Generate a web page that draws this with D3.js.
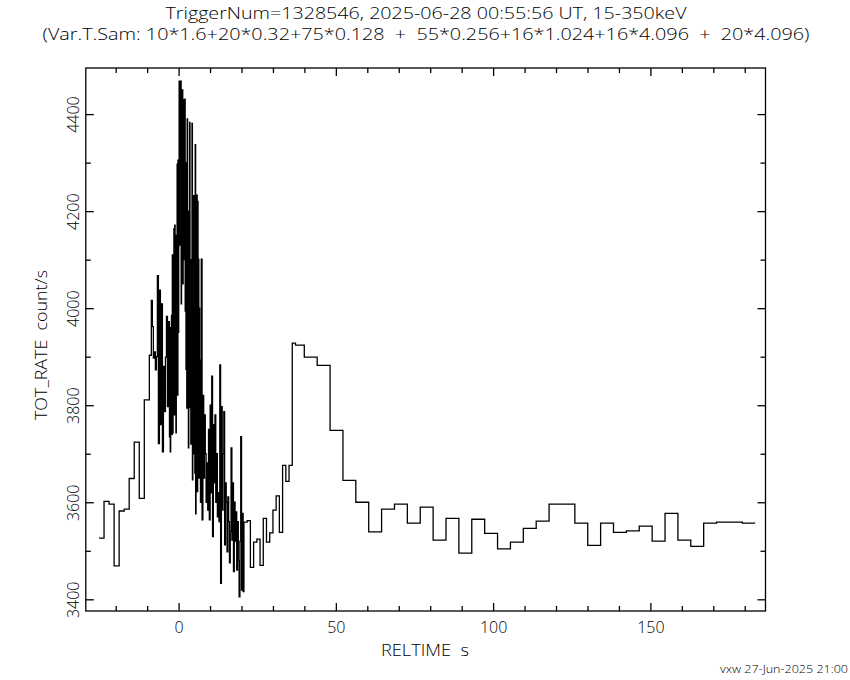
<!DOCTYPE html>
<html><head><meta charset="utf-8">
<script src="https://cdn.jsdelivr.net/npm/d3@7"></script>
<style>
html,body{margin:0;padding:0;background:#fff;}
text{font-family:"Open Sans","DejaVu Sans",sans-serif;font-weight:300;fill:#000;white-space:pre;}
</style></head>
<body>
<script>
// ---- data ----
const titleLine1 = "TriggerNum=1328546, 2025-06-28 00:55:56 UT, 15-350keV";
const titleLine2 = "(Var.T.Sam: 10*1.6+20*0.32+75*0.128  +  55*0.256+16*1.024+16*4.096  +  20*4.096)";
const xLabel = "RELTIME  s";
const yLabel = "TOT_RATE  count/s";
const footer = "vxw 27-Jun-2025 21:00";

// segment start times (s) and bin widths (s)
const segStart = [-25.3, -9.3, -2.9, 6.7, 20.78, 35.87, 101.41];
const segWidth = [1.6, 0.32, 0.128, 0.256, 1.024, 4.096, 4.096];

const rates1 = [3526, 3602, 3596, 3469, 3582, 3586, 3649, 3724, 3608, 3811];
const rates2 = [3903, 3903, 4016, 3962, 3897, 3910, 3873, 3900, 4067, 3721,
                4037, 3760, 4009, 3704, 3880, 3787, 3899, 3983, 3797, 3972];
const rates3 = [3735, 3960, 3704, 3900, 3760, 3985, 3740,
                4110, 3743, 4050, 3800,
                4164, 3780, 4171, 3900, 4100, 3743, 4150, 3850,
                4297, 3821, 4305, 3950, 4200,
                4468, 4130, 4440, 4200, 4468, 4009, 4400, 4155, 4450, 4050, 4380, 4300, 4430,
                4100, 4431, 3994, 4300, 3874, 4250, 3794, 4390, 3900, 4200,
                3712, 4150, 3795, 4383, 3850, 4050, 3720, 4100, 3900,
                4381, 3646, 4000, 3700, 4232, 3800, 3950, 3660,
                4337, 3576, 4100, 3700, 4233,
                3622, 4220, 3700, 4101, 3650, 4000];
const rates4 = [3893, 3600, 4101, 3564, 3820,
                3650, 3780, 3700, 3600,
                3681, 3584, 3750, 3564,
                3800, 3620, 3860, 3529, 3760,
                3640, 3780, 3600, 3700,
                3570, 3620, 3560, 3883,
                3433, 3797, 3584, 3700,
                3787, 3512, 3640, 3600,
                3498, 3611, 3560, 3475,
                3540, 3712, 3522, 3640,
                3457, 3600, 3520, 3580,
                3460, 3560, 3480, 3405, 3520,
                3735, 3419, 3577, 3416];
const rates5 = [3559, 3562, 3466, 3518, 3524, 3470, 3567, 3518,
                3537, 3584, 3613, 3538, 3676, 3643, 3676, 3928];
const rates6 = [3924, 3899, 3882, 3748, 3645, 3600, 3539, 3586,
                3596, 3557, 3590, 3522, 3567, 3495, 3565, 3536];
const rates7 = [3504, 3518, 3546, 3561, 3596, 3596, 3557, 3511, 3557, 3538,
                3541, 3551, 3520, 3577, 3522, 3509, 3557, 3559, 3559, 3557];
const segRates = [rates1, rates2, rates3, rates4, rates5, rates6, rates7];

const xMajor = [0, 50, 100, 150];
const xMinor = [-20, -10, 10, 20, 30, 40, 60, 70, 80, 90, 110, 120, 130, 140, 160, 170, 180];
const yMajor = [3400, 3600, 3800, 4000, 4200, 4400];
const yMinor = [3500, 3700, 3900, 4100, 4300];
const xDomain = [-29.5, 186.6];
const yDomain = [3375.9, 4495];

// ---- layout ----
const W = 850, H = 680;
const L = 85.8, R = 765.5, T = 68, B = 611;

const svg = d3.select("body").append("svg").attr("width", W).attr("height", H);
svg.append("rect").attr("width", W).attr("height", H).attr("fill", "#fff");

const x = d3.scaleLinear().domain(xDomain).range([L, R]);
const y = d3.scaleLinear().domain(yDomain).range([B, T]);

// build step vertices
const verts = [];
let prevEnd = -Infinity;
segRates.forEach((vals, s) => {
  vals.forEach((v, i) => {
    const t0 = segStart[s] + i * segWidth[s];
    const t1 = t0 + segWidth[s];
    const a = Math.max(t0, prevEnd);
    verts.push([a, v]);
    verts.push([t1, v]);
    prevEnd = t1;
  });
});

const line = d3.line().x(d => x(d[0])).y(d => y(d[1]));
svg.append("path").attr("d", line(verts)).attr("fill", "none")
  .attr("stroke", "#000").attr("stroke-width", 1.3).attr("stroke-linejoin", "miter");

// axes
function styleAxis(g) {
  g.select(".domain").remove();
  g.selectAll("line").attr("stroke", "#000").attr("stroke-width", 1.3);
  g.selectAll("text").style("font-size", "16px").attr("fill", "#000");
}
svg.append("g").attr("transform", `translate(0,${B})`)
  .call(d3.axisBottom(x).tickValues(xMajor).tickSize(-8).tickPadding(11).tickFormat(d3.format("d")))
  .call(styleAxis);
svg.append("g").attr("transform", `translate(0,${B})`)
  .call(d3.axisBottom(x).tickValues(xMinor).tickSize(-5).tickFormat(""))
  .call(styleAxis);
svg.append("g").attr("transform", `translate(0,${T})`)
  .call(d3.axisTop(x).tickValues(xMajor).tickSize(-8).tickFormat(""))
  .call(styleAxis);
svg.append("g").attr("transform", `translate(0,${T})`)
  .call(d3.axisTop(x).tickValues(xMinor).tickSize(-5).tickFormat(""))
  .call(styleAxis);

const gl = svg.append("g").attr("transform", `translate(${L},0)`)
  .call(d3.axisLeft(y).tickValues(yMajor).tickSize(-8).tickFormat(d3.format("d")))
  .call(styleAxis);
gl.selectAll("text")
  .attr("x", null).attr("dy", null).attr("text-anchor", "middle")
  .attr("transform", "translate(-7,0) rotate(-90)");
svg.append("g").attr("transform", `translate(${L},0)`)
  .call(d3.axisLeft(y).tickValues(yMinor).tickSize(-5).tickFormat(""))
  .call(styleAxis);
svg.append("g").attr("transform", `translate(${R},0)`)
  .call(d3.axisRight(y).tickValues(yMajor).tickSize(-8).tickFormat(""))
  .call(styleAxis);
svg.append("g").attr("transform", `translate(${R},0)`)
  .call(d3.axisRight(y).tickValues(yMinor).tickSize(-5).tickFormat(""))
  .call(styleAxis);

// frame
svg.append("rect").attr("x", L).attr("y", T).attr("width", R - L).attr("height", B - T)
  .attr("fill", "none").attr("stroke", "#000").attr("stroke-width", 1.3);

// texts
function addText(str, tx, ty, size, len, anchor, rot) {
  const t = svg.append("text")
    .attr("transform", `translate(${tx},${ty})` + (rot ? " rotate(-90)" : ""))
    .attr("text-anchor", anchor).style("font-size", size + "px").text(str);
  if (len) t.attr("textLength", len).attr("lengthAdjust", "spacingAndGlyphs");
  return t;
}
addText(titleLine1, 426, 19, 17, 521, "middle");
addText(titleLine2, 426, 40, 17, 767, "middle");
addText(xLabel, 425, 656, 16, 88, "middle");
addText(yLabel, 47, 345, 16, 150, "middle", true);
addText(footer, 848, 673, 11, 128, "end");
</script>
</body></html>
